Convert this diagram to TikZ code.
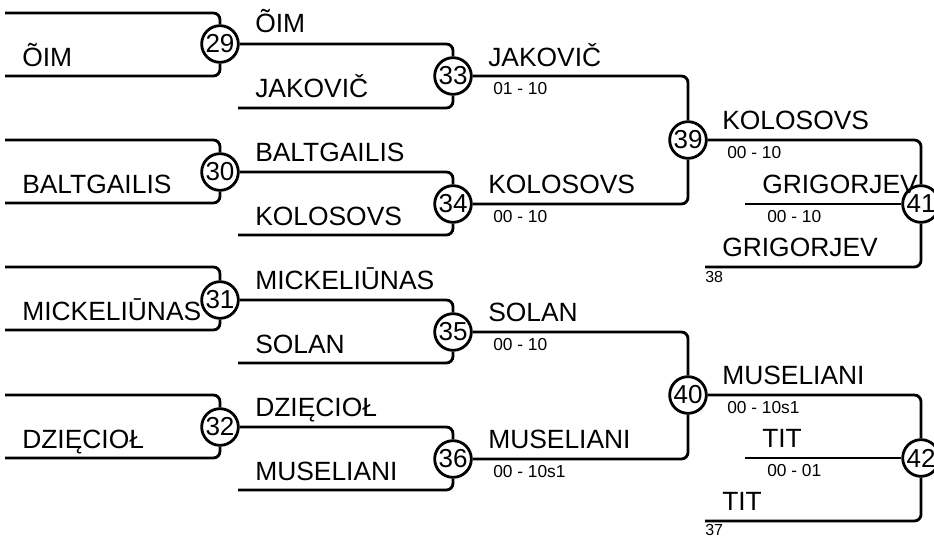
\documentclass[tikz,border=0pt]{standalone}
\usepackage{fontspec}
\setmainfont{Liberation Sans}
\begin{document}
\begin{tikzpicture}[x=0.75pt,y=-0.75pt,
    line/.style={line width=2.1pt, rounded corners=5pt},
    game/.style={draw, circle, line width=2.1pt, fill=white, minimum size=27.5pt, inner sep=0pt, font=\fontsize{19.5}{19.5}\selectfont},
    player/.style={anchor=base west, inner sep=0pt, font=\fontsize{19.8}{20}\selectfont},
    score/.style={anchor=base west, inner sep=0pt, font=\fontsize{13}{13}\selectfont},
    seed/.style={anchor=base west, inner sep=0pt, font=\fontsize{12}{12}\selectfont}]
  \useasboundingbox (0,0) rectangle (934,535);
  % games
  \node[game] (g29) at (220,44) {29};
  \node[game] (g30) at (220,172) {30};
  \node[game] (g31) at (220,300) {31};
  \node[game] (g32) at (220,427) {32};
  \node[game] (g33) at (453,76) {33};
  \node[game] (g34) at (453,204) {34};
  \node[game] (g35) at (453,332) {35};
  \node[game] (g36) at (453,459) {36};
  \node[game] (g39) at (688,140) {39};
  \node[game] (g40) at (688,395) {40};
  \node[game] (g41) at (921,204) {41};
  \node[game] (g42) at (921,458) {42};
  % free line ends
  \coordinate (a29) at (5,13);   \coordinate (b29) at (5,76);
  \coordinate (a30) at (5,140);  \coordinate (b30) at (5,203);
  \coordinate (a31) at (5,267);  \coordinate (b31) at (5,330);
  \coordinate (a32) at (5,395);  \coordinate (b32) at (5,458);
  \coordinate (b33) at (238,108);
  \coordinate (b34) at (238,235);
  \coordinate (b35) at (238,363);
  \coordinate (b36) at (238,490);
  \coordinate (m41) at (745,204); \coordinate (b41) at (705,267);
  \coordinate (m42) at (745,458); \coordinate (b42) at (705,521);
  % round 1
  \draw[line] (a29) -| (g29);  \draw[line] (b29) -| (g29);
  \draw[line] (a30) -| (g30);  \draw[line] (b30) -| (g30);
  \draw[line] (a31) -| (g31);  \draw[line] (b31) -| (g31);
  \draw[line] (a32) -| (g32);  \draw[line] (b32) -| (g32);
  % round 2
  \draw[line] (g29) -| (g33);  \draw[line] (b33) -| (g33);
  \draw[line] (g30) -| (g34);  \draw[line] (b34) -| (g34);
  \draw[line] (g31) -| (g35);  \draw[line] (b35) -| (g35);
  \draw[line] (g32) -| (g36);  \draw[line] (b36) -| (g36);
  % round 3
  \draw[line] (g33) -| (g39);  \draw[line] (g34) -| (g39);
  \draw[line] (g35) -| (g40);  \draw[line] (g36) -| (g40);
  % round 4
  \draw[line] (g39) -| (g41);  \draw[line] (m41) -- (g41);  \draw[line] (b41) -| (g41);
  \draw[line] (g40) -| (g42);  \draw[line] (m42) -- (g42);  \draw[line] (b42) -| (g42);
  % names
  \node[player] (p1) at (22,66) {ÕIM};
  \node[player] (p2) at (22,193) {BALTGAILIS};
  \node[player] (p3) at (22,320) {MICKELIŪNAS};
  \node[player] (p4) at (22,448) {DZIĘCIOŁ};
  \node[player] (p5) at (255,33) {ÕIM};
  \node[player] (p6) at (255,98) {JAKOVIČ};
  \node[player] (p7) at (255,161) {BALTGAILIS};
  \node[player] (p8) at (255,225) {KOLOSOVS};
  \node[player] (p9) at (255,289) {MICKELIŪNAS};
  \node[player] (p10) at (255,353) {SOLAN};
  \node[player] (p11) at (255,416) {DZIĘCIOŁ};
  \node[player] (p12) at (255,480) {MUSELIANI};
  \node[player] (p13) at (488,66) {JAKOVIČ};
  \node[player] (p14) at (488,193) {KOLOSOVS};
  \node[player] (p15) at (488,321) {SOLAN};
  \node[player] (p16) at (488,448) {MUSELIANI};
  \node[player] (p17) at (722,129) {KOLOSOVS};
  \node[player] (p18) at (762,193) {GRIGORJEV};
  \node[player] (p19) at (722,256) {GRIGORJEV};
  \node[player] (p20) at (722,384) {MUSELIANI};
  \node[player] (p21) at (762,447) {TIT};
  \node[player] (p22) at (722,510) {TIT};
  % scores
  \node[score] (s33) at (493,94) {01 - 10};
  \node[score] (s34) at (493,222) {00 - 10};
  \node[score] (s35) at (493,350) {00 - 10};
  \node[score] (s36) at (493,477) {00 - 10s1};
  \node[score] (s39) at (727,158) {00 - 10};
  \node[score] (s38) at (767,222) {00 - 10};
  \node[score] (s40) at (727,413) {00 - 10s1};
  \node[score] (s37) at (767,476) {00 - 01};
  \node[seed] (n38) at (705,282) {38};
  \node[seed] (n37) at (705,535) {37};
\end{tikzpicture}
\end{document}
